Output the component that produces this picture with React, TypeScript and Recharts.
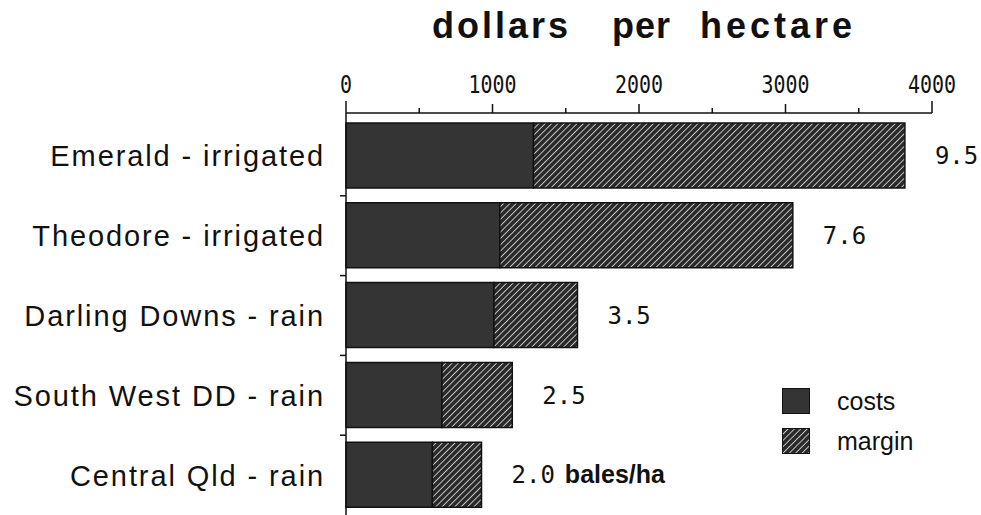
import { BarChart, Bar, XAxis, YAxis, LabelList } from "recharts";

const sites = [
  "Emerald - irrigated",
  "Theodore - irrigated",
  "Darling Downs - rain",
  "South West DD - rain",
  "Central Qld - rain",
];
const costs = [1280, 1050, 1010, 655, 590];
const margins = [2535, 2000, 570, 480, 335];
const yields = ["9.5", "7.6", "3.5", "2.5", "2.0 bales/ha"];
const dollarTicks = [0, 500, 1000, 1500, 2000, 2500, 3000, 3500, 4000];
const seriesNames = ["costs", "margin"];

const data = sites.map((site, i) => ({
  site,
  costs: costs[i],
  margin: margins[i],
  yield: yields[i],
}));

const sans = "'Liberation Sans', Arial, Helvetica, sans-serif";
const mono = "'DejaVu Sans Mono', monospace";
const fills: Record<string, string> = { costs: "#343434", margin: "url(#hatch)" };

const DollarTick = (props: any) => {
  const { x, y, payload } = props;
  const v = payload.value as number;
  const len = v === 0 || v === 4000 ? 12 : v % 1000 === 0 ? 9 : 5;
  const label = String(v);
  return (
    <g>
      <line x1={x} y1={y} x2={x} y2={y - len} stroke="#111" strokeWidth={1.5} />
      {v % 1000 === 0 && (
        <text
          x={x}
          y={y - 20}
          textAnchor="middle"
          fontFamily={mono}
          fontSize={25}
          fill="#111"
          textLength={12 * label.length}
          lengthAdjust="spacingAndGlyphs"
        >
          {label}
        </text>
      )}
    </g>
  );
};

const SiteTick = (props: any) => {
  const { x, y, payload, index } = props;
  const half = payload.offset ?? 40;
  return (
    <g>
      {index > 0 && (
        <line x1={x - 6} y1={y - half} x2={x} y2={y - half} stroke="#111" strokeWidth={1.5} />
      )}
      <text
        x={x - 21}
        y={y}
        dy="0.36em"
        textAnchor="end"
        fontFamily={sans}
        fontSize={29}
        letterSpacing={1.9}
        fill="#111"
      >
        {payload.value}
      </text>
    </g>
  );
};

const YieldLabel = (props: any) => {
  const { x, y, width, height, value } = props;
  const str = String(value);
  const sp = str.indexOf(" ");
  const num = sp > 0 ? str.slice(0, sp) : str;
  const unit = sp > 0 ? str.slice(sp + 1) : "";
  return (
    <text
      x={x + width + 30}
      y={y + height / 2}
      dy="0.36em"
      fontFamily={mono}
      fontSize={24}
      fill="#111"
    >
      {num}
      {unit && (
        <tspan dx={10} fontFamily={sans} fontWeight="bold" fontSize={25}>
          {unit}
        </tspan>
      )}
    </text>
  );
};

const titleStyle = {
  position: "absolute" as const,
  top: 8,
  fontFamily: sans,
  fontWeight: "bold" as const,
  fontSize: 36,
  lineHeight: "36px",
  letterSpacing: 3,
  color: "#111",
};

export default function App() {
  return (
    <div
      style={{
        position: "absolute",
        left: 0,
        top: 0,
        width: 981,
        height: 515,
        background: "#fff",
        overflow: "hidden",
      }}
    >
      <svg width={0} height={0} style={{ position: "absolute" }}>
        <defs>
          <pattern
            id="hatch"
            patternUnits="userSpaceOnUse"
            width={4.5}
            height={4.5}
            patternTransform="rotate(45)"
          >
            <rect width={4.5} height={4.5} fill="#2a2a2a" />
            <line x1={0} y1={0} x2={0} y2={4.5} stroke="#e2e2e2" strokeWidth={1.6} />
          </pattern>
        </defs>
      </svg>
      <span style={{ ...titleStyle, left: 432 }}>dollars</span>
      <span style={{ ...titleStyle, left: 612, letterSpacing: 1 }}>per</span>
      <span style={{ ...titleStyle, left: 700, letterSpacing: 4 }}>hectare</span>
      <BarChart
        width={981}
        height={515}
        data={data}
        layout="vertical"
        margin={{ top: 0, right: 49, bottom: 0, left: 0 }}
        style={{ position: "absolute", left: 0, top: 0 }}
      >
        <XAxis
          type="number"
          orientation="top"
          domain={[0, 4000]}
          ticks={dollarTicks}
          interval={0}
          height={113}
          tickSize={0}
          tickMargin={0}
          tickLine={false}
          axisLine={{ stroke: "#111", strokeWidth: 1.5 }}
          tick={<DollarTick />}
        />
        <YAxis
          type="category"
          dataKey="site"
          width={346}
          tickSize={0}
          tickMargin={0}
          tickLine={false}
          padding={{ top: 3, bottom: 0 }}
          axisLine={{ stroke: "#111", strokeWidth: 1.5 }}
          tick={<SiteTick />}
        />
        <Bar
          dataKey="costs"
          name="costs"
          stackId="a"
          barSize={65}
          fill={fills.costs}
          stroke="#111"
          strokeWidth={1.5}
          isAnimationActive={false}
        />
        <Bar
          dataKey="margin"
          name="margin"
          stackId="a"
          barSize={65}
          fill={fills.margin}
          stroke="#111"
          strokeWidth={1.5}
          isAnimationActive={false}
        >
          <LabelList dataKey="yield" content={<YieldLabel />} />
        </Bar>
      </BarChart>
      <div
        style={{
          position: "absolute",
          left: 782,
          top: 381,
          fontFamily: sans,
          fontSize: 25,
          color: "#111",
        }}
      >
        {seriesNames.map((name) => (
          <div key={name} style={{ display: "flex", alignItems: "center", height: 40 }}>
            <svg width={28} height={26} style={{ marginRight: 27 }}>
              <rect x={0.5} y={0.5} width={27} height={25} fill={fills[name]} stroke="#111" />
            </svg>
            <span>{name}</span>
          </div>
        ))}
      </div>
    </div>
  );
}
